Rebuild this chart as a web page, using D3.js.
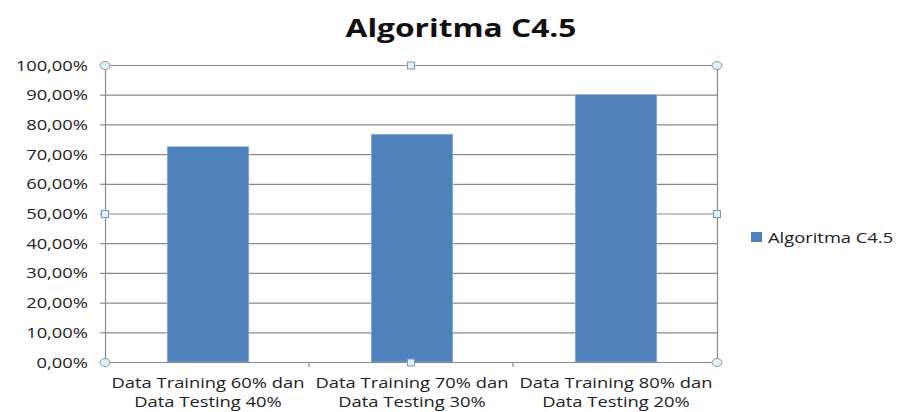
<!DOCTYPE html>
<html>
<head>
<meta charset="utf-8">
<script src="https://cdn.jsdelivr.net/npm/d3@7"></script>
<style>
  body { margin: 0; background: #fff; }
  text { font-family: "Open Sans", "Liberation Sans", sans-serif; fill: #222; }
</style>
</head>
<body>
<div id="chart"></div>
<script>
var categories = [
  ["Data Training 60% dan", "Data Testing 40%"],
  ["Data Training 70% dan", "Data Testing 30%"],
  ["Data Training 80% dan", "Data Testing 20%"]
];
var seriesName = "Algoritma C4.5";
var values = [0.725, 0.767, 0.90];
var yTicks = [0, 0.1, 0.2, 0.3, 0.4, 0.5, 0.6, 0.7, 0.8, 0.9, 1.0];

var width = 900, height = 412;
var margin = {top: 65, right: 183, bottom: 50, left: 105};
var plotW = width - margin.left - margin.right,
    plotH = height - margin.top - margin.bottom;

var svg = d3.select("#chart").append("svg")
    .attr("width", width)
    .attr("height", height);

var g = svg.append("g")
    .attr("transform", "translate(" + margin.left + "," + margin.top + ")");

var x = d3.scaleBand()
    .domain(d3.range(categories.length))
    .range([0, plotW])
    .paddingInner(0.6)
    .paddingOuter(0.3);

var y = d3.scaleLinear().domain([0, 1]).range([plotH, 0]);

var fmt = function (v) { return (v * 100).toFixed(2).replace(".", ",") + "%"; };

// gridlines
g.selectAll("line.grid")
  .data(yTicks)
  .enter().append("line")
  .attr("class", "grid")
  .attr("x1", 0).attr("x2", plotW)
  .attr("y1", function (d) { return y(d) + 0.5; })
  .attr("y2", function (d) { return y(d) + 0.5; })
  .style("stroke", "#8a8a8a")
  .style("stroke-width", 1.2);

// plot area right border (selection)
g.append("line")
  .attr("x1", plotW + 0.5).attr("x2", plotW + 0.5)
  .attr("y1", 0).attr("y2", plotH)
  .style("stroke", "#8a8a8a").style("stroke-width", 1.2);

// bars
g.selectAll("rect.bar")
  .data(values)
  .enter().append("rect")
  .attr("class", "bar")
  .attr("x", function (d, i) { return x(i) + 1; })
  .attr("width", x.bandwidth())
  .attr("y", function (d) { return y(d); })
  .attr("height", function (d) { return plotH - y(d); })
  .style("fill", "#4f81bd")
  .style("stroke", "#9bb7dc")
  .style("stroke-width", 0.6);

// y axis
var yAxis = g.append("g")
  .call(d3.axisLeft(y).tickValues(yTicks).tickFormat(fmt).tickSize(5).tickSizeOuter(0));
yAxis.select(".domain").style("stroke", "#8a8a8a").style("stroke-width", 1.2);
yAxis.selectAll(".tick line").style("stroke", "#8a8a8a").style("stroke-width", 1.2);
yAxis.selectAll(".tick text")
  .attr("x", -17)
  .attr("dy", "0.36em")
  .style("font-size", "14px")
  .style("font-family", "'Open Sans', sans-serif")
  .style("fill", "#222");

// x axis baseline and category ticks
var step = plotW / categories.length;
var xAxis = g.append("g").attr("transform", "translate(0," + plotH + ")");
xAxis.append("line")
  .attr("x1", 0).attr("x2", plotW).attr("y1", 0.5).attr("y2", 0.5)
  .style("stroke", "#8a8a8a").style("stroke-width", 1.2);
xAxis.selectAll("line.ctick")
  .data(d3.range(categories.length + 1))
  .enter().append("line")
  .attr("class", "ctick")
  .attr("x1", function (d) { return d * step; })
  .attr("x2", function (d) { return d * step; })
  .attr("y1", 0).attr("y2", 5)
  .style("stroke", "#8a8a8a").style("stroke-width", 1.2);

var catLabels = xAxis.selectAll("text.cat")
  .data(categories)
  .enter().append("text")
  .attr("class", "cat")
  .attr("text-anchor", "middle")
  .style("font-size", "14px");
catLabels.append("tspan")
  .attr("x", function (d, i) { return x(i) + x.bandwidth() / 2 + 1; })
  .attr("y", 26)
  .text(function (d) { return d[0]; });
catLabels.append("tspan")
  .attr("x", function (d, i) { return x(i) + x.bandwidth() / 2 + 1; })
  .attr("y", 45)
  .text(function (d) { return d[1]; });

// title
var title = svg.append("text")
  .attr("text-anchor", "middle")
  .attr("x", 461).attr("y", 37)
  .style("font-size", "25px")
  .style("font-weight", "bold")
  .style("fill", "#111")
  .text(seriesName);

// legend
var legend = svg.append("g").attr("transform", "translate(751,232)");
legend.append("rect")
  .attr("width", 11).attr("height", 10)
  .style("fill", "#4f81bd");
var legendText = legend.append("text")
  .attr("x", 17).attr("y", 10.5)
  .style("font-size", "14px")
  .text(seriesName);

// horizontal stretch of text to match the reference's wide look
var firstLab = catLabels.select("tspan").node();
var k = 193 / firstLab.getComputedTextLength();
function stretch(sel, ax, ay) {
  sel.attr("transform", "translate(" + ax + "," + ay + ") scale(" + k + ",1) translate(" + (-ax) + "," + (-ay) + ")");
}
catLabels.each(function (d, i) {
  var cx = x(i) + x.bandwidth() / 2 + 1;
  stretch(d3.select(this), cx, 0);
});
yAxis.selectAll(".tick text").each(function () {
  stretch(d3.select(this), -17, 0);
});
stretch(legendText, 17, 0);
var kt = 231 / title.node().getComputedTextLength();
title.attr("transform", "translate(461,0) scale(" + kt + ",1) translate(-461,0)");

// selection handles
var handles = svg.append("g").attr("transform", "translate(" + margin.left + "," + margin.top + ")");
var corners = [[0, 0], [plotW, 0], [0, plotH], [plotW, plotH]];
var mids = [[plotW / 2, 0], [plotW / 2, plotH], [0, plotH / 2], [plotW, plotH / 2]];
handles.selectAll("ellipse")
  .data(corners)
  .enter().append("ellipse")
  .attr("cx", function (d) { return d[0]; })
  .attr("cy", function (d) { return d[1] + 0.5; })
  .attr("rx", 5).attr("ry", 4)
  .style("fill", "#dff1f7")
  .style("stroke", "#8a9aa5")
  .style("stroke-width", 1);
handles.selectAll("rect")
  .data(mids)
  .enter().append("rect")
  .attr("x", function (d) { return d[0] - 3.5; })
  .attr("y", function (d) { return d[1] - 3; })
  .attr("width", 7).attr("height", 7)
  .style("fill", "#dff1f7")
  .style("stroke", "#7a9ab5")
  .style("stroke-width", 1);
</script>
</body>
</html>
